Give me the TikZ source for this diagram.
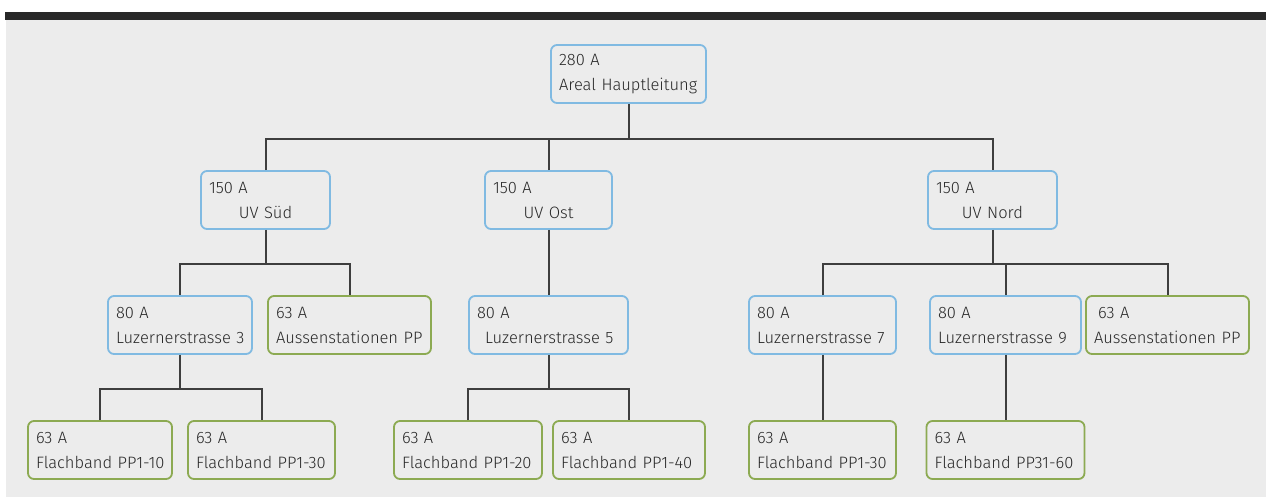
\documentclass[tikz,border=0pt]{standalone}
\usepackage{fontspec}
\setmainfont{Fira Sans Light}
\definecolor{bgc}{RGB}{236,236,236}
\definecolor{barc}{RGB}{40,40,40}
\definecolor{blueb}{RGB}{128,186,226}
\definecolor{greenb}{RGB}{140,170,82}
\definecolor{linec}{RGB}{62,62,62}
\definecolor{txtc}{RGB}{40,40,40}
\newcommand{\tl}[2]{#1\\\mbox{#2}}
\begin{document}
\begin{tikzpicture}[x=1pt,y=-1pt,
  box/.style={draw, line width=1.8pt, rounded corners=6pt, minimum height=58pt,
    inner xsep=8pt, inner ysep=0pt, align=left, text=txtc,
    font=\fontsize{16.5}{25}\selectfont},
  bluebox/.style={box, draw=blueb},
  greenbox/.style={box, draw=greenb},
  conn/.style={draw=linec, line width=2pt}]
\useasboundingbox (0,0) rectangle (1266,499);
\fill[bgc] (6,20) rectangle (1266,497);
\fill[barc] (5,12) rectangle (1266,20);

% level 1
\node[bluebox, minimum width=155pt, text width=139pt] (root) at (628.5,74) {\tl{280 A}{Areal Hauptleitung}};
% level 2
\node[bluebox, minimum width=129pt, text width=113pt] (uvs) at (265.5,200) {150 A\\\makebox[\hsize]{UV Süd}};
\node[bluebox, minimum width=127pt, text width=111pt] (uvo) at (548.5,200) {150 A\\\makebox[\hsize]{UV Ost}};
\node[bluebox, minimum width=129pt, text width=113pt] (uvn) at (992.5,200) {150 A\\\makebox[\hsize]{UV Nord}};
% level 3
\node[bluebox, minimum width=144pt, text width=128pt] (l3) at (180,325) {\tl{80 A}{Luzernerstrasse 3}};
\node[greenbox, minimum width=163pt, text width=147pt] (a1) at (349.5,325) {\tl{63 A}{Aussenstationen PP}};
\node[bluebox, minimum width=159pt, text width=143pt] (l5) at (548.5,325) {\tl{80 A}{\hspace*{8pt}Luzernerstrasse 5}};
\node[bluebox, minimum width=147pt, text width=131pt] (l7) at (822.5,325) {\tl{80 A}{Luzernerstrasse 7}};
\node[bluebox, minimum width=151pt, text width=135pt] (l9) at (1005.5,325) {\tl{80 A}{Luzernerstrasse 9}};
\node[greenbox, minimum width=163pt, text width=147pt] (a2) at (1167.5,325) {\tl{\hspace*{4pt}63 A}{Aussenstationen PP}};
% level 4
\node[greenbox, minimum width=144pt, text width=128pt] (f1) at (100,450) {\tl{63 A}{Flachband PP1-10}};
\node[greenbox, minimum width=147pt, text width=131pt] (f2) at (261.5,450) {\tl{63 A}{Flachband PP1-30}};
\node[greenbox, minimum width=148pt, text width=132pt] (f3) at (468,450) {\tl{63 A}{Flachband PP1-20}};
\node[greenbox, minimum width=152pt, text width=136pt] (f4) at (629,450) {\tl{63 A}{Flachband PP1-40}};
\node[greenbox, minimum width=147pt, text width=131pt] (f5) at (822.5,450) {\tl{63 A}{Flachband PP1-30}};
\node[greenbox, minimum width=158pt, text width=142pt] (f6) at (1005.5,450) {\tl{63 A}{Flachband PP31-60}};

% bus coordinates
\path (root.south) ++(0,35) coordinate (b0);
\path (uvs.south) ++(0,34) coordinate (b1);
\path (uvn.south) ++(0,34) coordinate (b3);
\path (l3.south) ++(0,34) coordinate (b4);
\path (l5.south) ++(0,34) coordinate (b5);

% connectors
\path[conn] (root.south) -- (b0) (uvs.north) |- (b0) -| (uvn.north) (uvo.north) -- (uvo.north |- b0);
\path[conn] (uvs.south) -- (b1) (l3.north) |- (b1) -| (a1.north);
\path[conn] (uvo.south) -- (l5.north);
\path[conn] (uvn.south) -- (b3) (l7.north) |- (b3) -| (a2.north) (l9.north) -- (l9.north |- b3);
\path[conn] (l3.south) -- (b4) (f1.north) |- (b4) -| (f2.north);
\path[conn] (l5.south) -- (b5) (f3.north) |- (b5) -| (f4.north);
\path[conn] (l7.south) -- (f5.north);
\path[conn] (l9.south) -- (f6.north);
\end{tikzpicture}
\end{document}
